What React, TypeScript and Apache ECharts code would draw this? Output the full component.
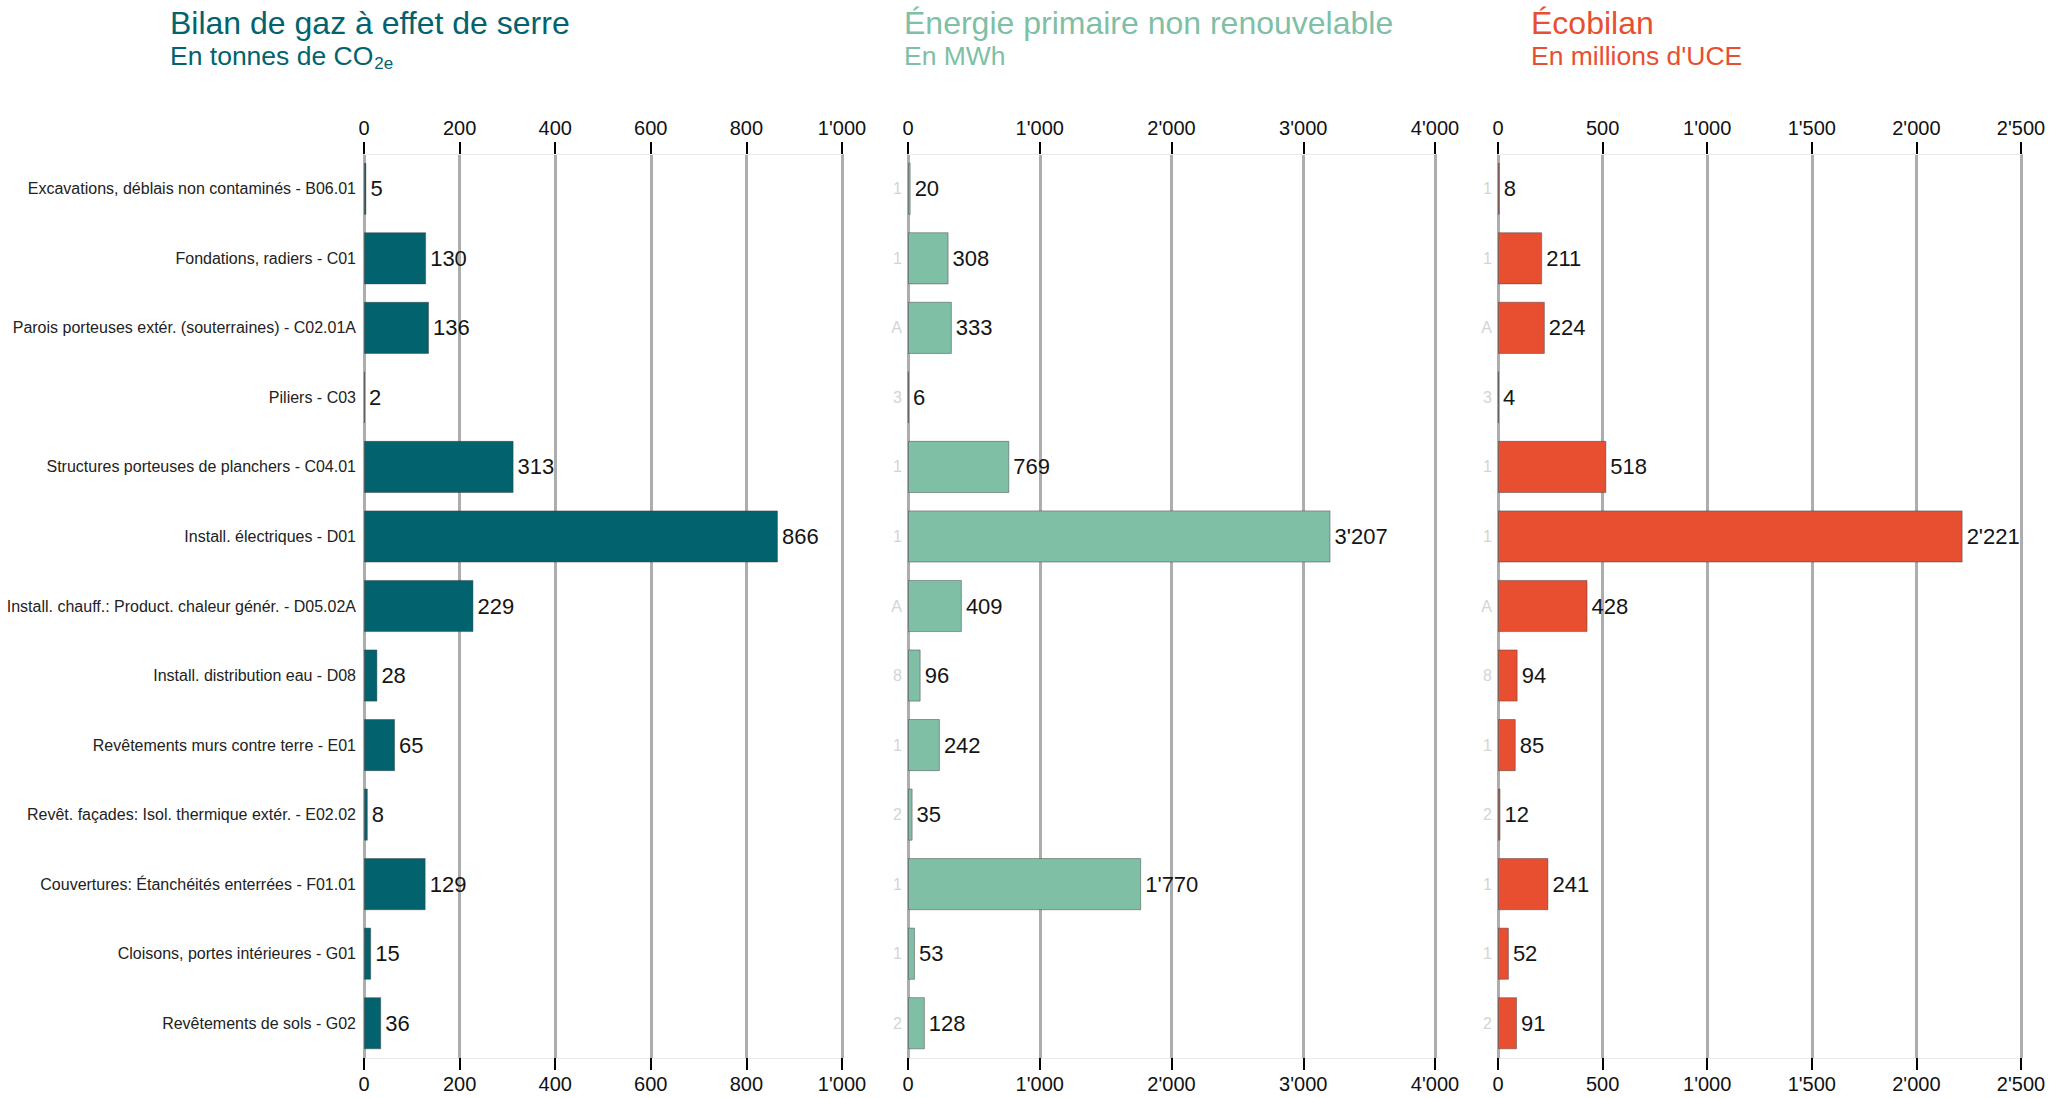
import React, { useEffect, useRef } from "react";
import * as echarts from "echarts";

const categories = [
  "Excavations, déblais non contaminés - B06.01",
  "Fondations, radiers - C01",
  "Parois porteuses extér. (souterraines) - C02.01A",
  "Piliers - C03",
  "Structures porteuses de planchers - C04.01",
  "Install. électriques - D01",
  "Install. chauff.: Product. chaleur génér. - D05.02A",
  "Install. distribution eau - D08",
  "Revêtements murs contre terre - E01",
  "Revêt. façades: Isol. thermique extér. - E02.02",
  "Couvertures: Étanchéités enterrées - F01.01",
  "Cloisons, portes intérieures - G01",
  "Revêtements de sols - G02",
];

const ghgValues = [5, 130, 136, 2, 313, 866, 229, 28, 65, 8, 129, 15, 36];
const energyValues = [20, 308, 333, 6, 769, 3207, 409, 96, 242, 35, 1770, 53, 128];
const ecoValues = [8, 211, 224, 4, 518, 2221, 428, 94, 85, 12, 241, 52, 91];

const ghgAxis = { max: 1000, interval: 200 };
const energyAxis = { max: 4000, interval: 1000 };
const ecoAxis = { max: 2500, interval: 500 };

const titles = [
  { title: "Bilan de gaz à effet de serre", sub: "En tonnes de CO", subscript: "2e" },
  { title: "Énergie primaire non renouvelable", sub: "En MWh", subscript: "" },
  { title: "Écobilan", sub: "En millions d'UCE", subscript: "" },
];

const FONT = "'Liberation Sans', Arial, sans-serif";
const TEAL = "#02636f";
const GREEN = "#7fbfa5";
const RED = "#e84f31";

const fmt = (v: number) => String(v).replace(/\B(?=(\d{3})+(?!\d))/g, "'");

export default function App() {
  const ref = useRef<HTMLDivElement>(null);
  useEffect(() => {
    if (!ref.current) return;
    const chart = echarts.init(ref.current, undefined, { renderer: "svg" });

    const panels = [
      { left: 364, width: 478, axis: ghgAxis, values: ghgValues, color: TEAL, titleX: 170, full: true },
      { left: 908, width: 527, axis: energyAxis, values: energyValues, color: GREEN, titleX: 904, full: false },
      { left: 1498, width: 523, axis: ecoAxis, values: ecoValues, color: RED, titleX: 1531, full: false },
    ];

    const canvas = document.createElement("canvas");
    const ctx = canvas.getContext("2d")!;
    const SUB = 26.5;

    const graphics: any[] = [];
    panels.forEach((p, i) => {
      const t = titles[i];
      graphics.push({
        type: "text",
        x: p.titleX,
        y: 23,
        style: { text: t.title, fontSize: 32, fontFamily: FONT, fill: p.color, verticalAlign: "middle", align: "left" },
      });
      graphics.push({
        type: "text",
        x: p.titleX,
        y: 56,
        style: { text: t.sub, fontSize: SUB, fontFamily: FONT, fill: p.color, verticalAlign: "middle", align: "left" },
      });
      if (t.subscript) {
        ctx.font = `${SUB}px ${FONT}`;
        const w = ctx.measureText(t.sub).width;
        graphics.push({
          type: "text",
          x: p.titleX + w + 1,
          y: 63,
          style: { text: t.subscript, fontSize: 17, fontFamily: FONT, fill: p.color, verticalAlign: "middle", align: "left" },
        });
      }
    });

    const grid = panels.map((p) => ({ left: p.left, width: p.width, top: 154, bottom: 40 }));

    const xAxis: any[] = [];
    panels.forEach((p, i) => {
      ["top", "bottom"].forEach((pos) => {
        xAxis.push({
          type: "value",
          gridIndex: i,
          position: pos,
          min: 0,
          max: p.axis.max,
          interval: p.axis.interval,
          axisLine: { show: true, lineStyle: { color: "#ebebeb", width: 1 } },
          axisTick: { show: true, length: 12, lineStyle: { color: "#000", width: 2 } },
          axisLabel: {
            show: true,
            fontSize: 20,
            fontFamily: FONT,
            color: "#111",
            margin: 16,
            formatter: (v: number) => fmt(v),
          },
          splitLine: { show: pos === "top", lineStyle: { color: "#adadad", width: 3 } },
        });
      });
    });

    const yAxis = panels.map((p, i) => ({
      type: "category",
      gridIndex: i,
      data: categories,
      inverse: true,
      axisLine: { show: false },
      axisTick: { show: false },
      axisLabel: p.full
        ? { fontSize: 16, fontFamily: FONT, color: "#222", margin: 8 }
        : {
            fontSize: 16,
            fontFamily: FONT,
            color: "#d4d4d4",
            margin: 6,
            formatter: (v: string) => v.slice(-1),
          },
    }));

    const series = panels.map((p, i) => ({
      type: "bar",
      xAxisIndex: 2 * i,
      yAxisIndex: i,
      data: p.values,
      barCategoryGap: "25%",
      itemStyle: { color: p.color, borderColor: "rgba(60,60,60,0.45)", borderWidth: 1 },
      label: {
        show: true,
        position: "right",
        distance: 4,
        fontSize: 22,
        fontFamily: FONT,
        color: "#151515",
        formatter: (d: any) => fmt(d.value),
      },
    }));

    chart.setOption({
      animation: false,
      backgroundColor: "#fff",
      textStyle: { fontFamily: FONT },
      grid,
      xAxis,
      yAxis,
      series,
      graphic: graphics,
    });
    return () => chart.dispose();
  }, []);

  return (
    <div
      ref={ref}
      style={{ position: "absolute", left: 0, top: 0, width: 2069, height: 1098, background: "#fff" }}
    />
  );
}
